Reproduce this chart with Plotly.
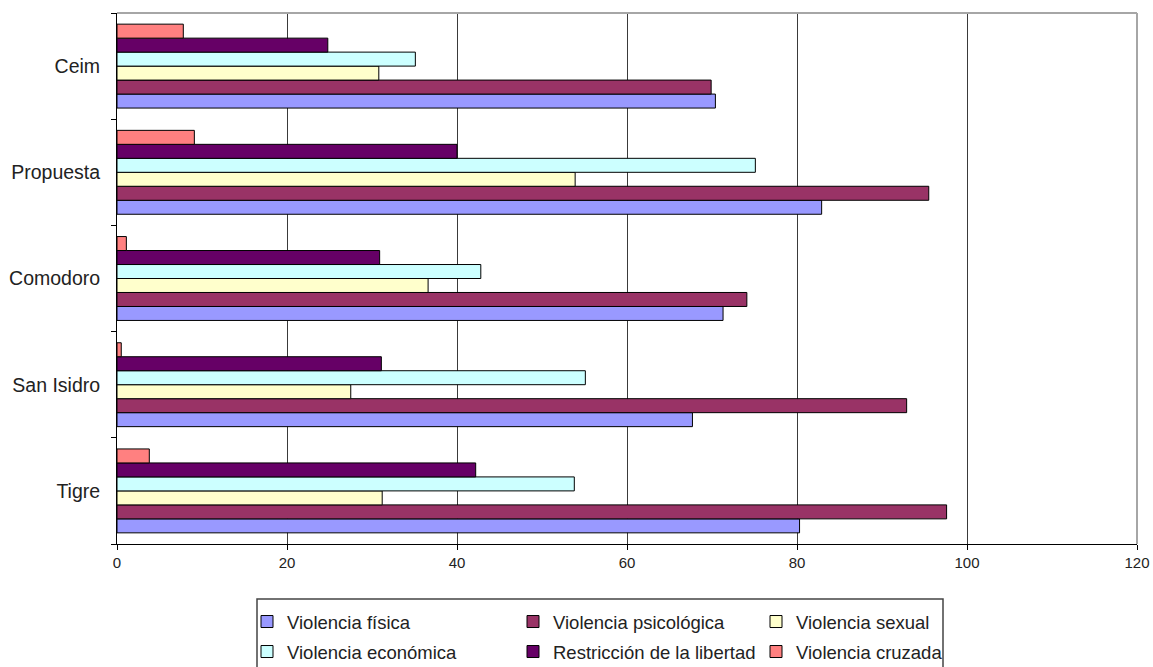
import plotly.graph_objects as go

categories = ["Tigre", "San Isidro", "Comodoro", "Propuesta", "Ceim"]

series_names = [
    "Violencia física",
    "Violencia psicológica",
    "Violencia sexual",
    "Violencia económica",
    "Restricción de la libertad",
    "Violencia cruzada",
]

fisica = [80.3, 67.7, 71.3, 82.9, 70.4]
psicologica = [97.6, 92.9, 74.1, 95.5, 69.9]
sexual = [31.2, 27.5, 36.6, 53.9, 30.8]
economica = [53.8, 55.1, 42.8, 75.1, 35.1]
restriccion = [42.2, 31.1, 30.9, 40.0, 24.8]
cruzada = [3.8, 0.5, 1.1, 9.1, 7.8]

x_ticks = [0, 20, 40, 60, 80, 100, 120]

colors = ["#9999FF", "#993366", "#FFFFCC", "#CCFFFF", "#660066", "#FF8080"]
values = [fisica, psicologica, sexual, economica, restriccion, cruzada]
legends = ["legend", "legend", "legend", "legend2", "legend2", "legend2"]
lwidths = [221, 198, 160, 221, 198, 160]

W, H = 1153, 667
ML, MR, MT, MB = 117, 16, 13, 123
PW = W - ML - MR
PH = H - MT - MB


def px_x(px):
    return (px - ML) / PW


def px_y(py):
    return (H - MB - py) / PH


fig = go.Figure()
for name, vals, col, lg, lw in zip(series_names, values, colors, legends, lwidths):
    fig.add_trace(go.Bar(
        y=categories, x=vals, name=name, orientation="h",
        marker=dict(color=col, line=dict(color="#000000", width=1)),
        legend=lg, legendwidth=lw,
    ))

font_family = "Liberation Sans, Arial, sans-serif"

fig.update_layout(
    width=W, height=H,
    margin=dict(l=ML, r=MR, t=MT, b=MB, autoexpand=False),
    paper_bgcolor="white", plot_bgcolor="white",
    barmode="group", bargap=0.21, bargroupgap=0,
    font=dict(family=font_family, color="#222222"),
    xaxis=dict(
        range=[0, 120], tickvals=x_ticks, ticktext=[str(v) for v in x_ticks],
        showgrid=True, gridcolor="#3a3a3a", gridwidth=1,
        showline=True, linecolor="#000000", linewidth=1,
        ticks="outside", ticklen=5, tickcolor="#000000",
        zeroline=False, automargin=False,
        tickfont=dict(size=15, family=font_family, color="#222222"),
        fixedrange=True,
    ),
    yaxis=dict(
        categoryorder="array", categoryarray=categories,
        showgrid=False, showline=True, linecolor="#000000", linewidth=1,
        ticks="outside", ticklen=5, tickcolor="#000000", tickson="boundaries",
        ticklabelstandoff=12, automargin=False,
        tickfont=dict(size=19.5, family=font_family, color="#222222"),
        fixedrange=True,
    ),
    legend=dict(
        orientation="h", x=px_x(247), xanchor="left", y=px_y(603), yanchor="top",
        bgcolor="rgba(0,0,0,0)", borderwidth=0,
        font=dict(size=18.5, family=font_family, color="#222222"),
        traceorder="normal",
    ),
    legend2=dict(
        orientation="h", x=px_x(247), xanchor="left", y=px_y(633), yanchor="top",
        bgcolor="rgba(0,0,0,0)", borderwidth=0,
        font=dict(size=18.5, family=font_family, color="#222222"),
        traceorder="normal",
    ),
    shapes=[
        dict(type="line", xref="paper", yref="paper", x0=0, x1=1, y0=1, y1=1,
             line=dict(color="#a6a6a6", width=2), layer="above"),
        dict(type="line", xref="paper", yref="paper", x0=1, x1=1, y0=0, y1=1,
             line=dict(color="#a6a6a6", width=2), layer="above"),
        dict(type="rect", xref="paper", yref="paper",
             x0=px_x(257), x1=px_x(943), y0=px_y(680), y1=px_y(599),
             line=dict(color="#444444", width=1.5), fillcolor="rgba(0,0,0,0)"),
    ],
)

fig.write_html(
    "out.html",
    config={"displayModeBar": False},
    post_script="document.body.style.margin='0px';document.body.style.padding='0px';",
)
